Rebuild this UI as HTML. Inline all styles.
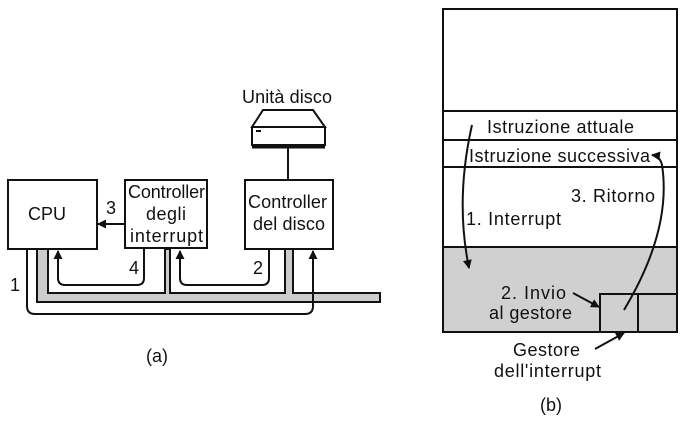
<!DOCTYPE html>
<html><head><style>
body{margin:0;background:#fff}
svg text{font-family:"Liberation Sans",sans-serif;font-size:18px;fill:#111}
</style></head><body>
<svg width="699" height="419" viewBox="0 0 699 419">
<defs><marker id="a" markerWidth="9" markerHeight="9" refX="8" refY="4.5" orient="auto" markerUnits="userSpaceOnUse"><path d="M0,0 L9,4.5 L0,9 Z" fill="#111"/></marker></defs>
<g stroke="#111" stroke-width="2" fill="none">
<path d="M263,110 L313,110 L325,127 L252,127 Z" fill="#fff"/>
<rect x="252" y="127" width="73" height="18" fill="#fff"/>
<line x1="252" y1="147" x2="325" y2="147" stroke-width="3"/>
<line x1="256" y1="131" x2="261" y2="131"/>
<line x1="288" y1="148" x2="288" y2="180"/>
<path d="M37,249 L37,302 L380,302 L380,293 L293,293 L293,249 L285,249 L285,293 L170,293 L170,249 L165,249 L165,293 L48,293 L48,249 Z" fill="#ccc"/>
<rect x="8" y="180" width="89" height="69" fill="#fff"/>
<rect x="125" y="180" width="82" height="68" fill="#fff"/>
<rect x="245" y="180" width="88" height="69" fill="#fff"/>
<line x1="125" y1="224" x2="98" y2="224" marker-end="url(#a)"/>
<path d="M27,250 L27,306 Q27,314 35,314 L305,314 Q313,314 313,306 L313,251" marker-end="url(#a)"/>
<path d="M269,249 L269,278 Q269,285 262,285 L187,285 Q180,285 180,278 L180,251" marker-end="url(#a)"/>
<path d="M144,248 L144,278 Q144,285 137,285 L65,285 Q58,285 58,278 L58,251" marker-end="url(#a)"/>
<rect x="443" y="9" width="234" height="323" fill="#fff"/>
<rect x="443" y="247" width="234" height="85" fill="#d0d0d0"/>
<line x1="443" y1="111" x2="677" y2="111"/>
<line x1="443" y1="140" x2="677" y2="140"/>
<line x1="443" y1="167" x2="677" y2="167"/>
<rect x="600" y="294" width="38" height="38"/>
<rect x="638" y="294" width="39" height="38"/>
<path d="M472,125 Q455,200 469,268" marker-end="url(#a)"/>
<path d="M624,310 Q672,230 662,165 Q660,156 652,155" marker-end="url(#a)"/>
<line x1="573" y1="293" x2="599" y2="307" marker-end="url(#a)"/>
<line x1="595" y1="349" x2="624" y2="333" marker-end="url(#a)"/>
</g>
<text x="242" y="103" textLength="90">Unità disco</text>
<text x="28" y="220" textLength="38">CPU</text>
<text x="128" y="198" textLength="77">Controller</text>
<text x="146" y="220" textLength="40">degli</text>
<text x="130" y="242" textLength="73">interrupt</text>
<text x="248" y="208" textLength="79">Controller</text>
<text x="253" y="230" textLength="72">del disco</text>
<text x="106" y="214">3</text>
<text x="129" y="274">4</text>
<text x="253" y="274">2</text>
<text x="10" y="291">1</text>
<text x="146" y="362">(a)</text>
<text x="487" y="133" textLength="147">Istruzione attuale</text>
<text x="469" y="162" textLength="181">Istruzione successiva</text>
<text x="571" y="202" textLength="84">3. Ritorno</text>
<text x="466" y="225" textLength="95">1. Interrupt</text>
<text x="501" y="299" textLength="65">2. Invio</text>
<text x="489" y="319" textLength="83">al gestore</text>
<text x="513" y="356" textLength="67">Gestore</text>
<text x="494" y="377" textLength="107">dell'interrupt</text>
<text x="540" y="411">(b)</text>
</svg>
</body></html>
